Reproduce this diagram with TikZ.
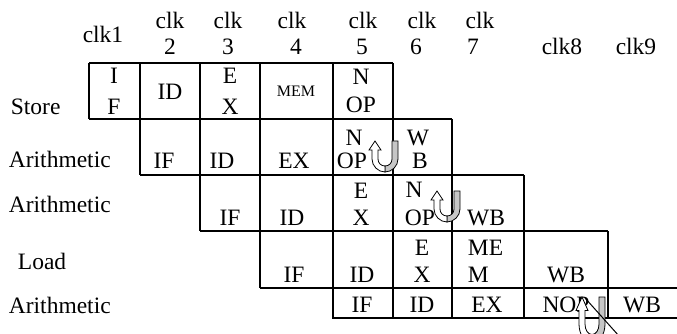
\documentclass[tikz,border=0pt]{standalone}
\usepackage{fontspec}
\setmainfont{Liberation Serif}
\begin{document}
\begin{tikzpicture}[x=1pt,y=-1pt,line width=1.8pt,
  txt/.style={font=\fontsize{23.5}{26}\selectfont,inner sep=0pt,text depth=0pt,anchor=base},
  lbl/.style={txt,anchor=base west},
  small/.style={font=\fontsize{16}{18}\selectfont,inner sep=0pt,anchor=base},
  backarm/.style={fill=gray!45,draw=black,line width=0.8pt},
  frontarm/.style={fill=white,draw=black,line width=0.8pt},
  uturn/.pic={
    \path[backarm] (10,25) .. controls (14,25) and (17,22) .. (17,18) -- (17,0)
      -- (23,0) -- (23,18) .. controls (23,25) and (17,31) .. (10,31) -- cycle;
    \path[frontarm] (0,0) -- (6,9) -- (3,9) -- (3,18)
      .. controls (3,22) and (6,25) .. (10,25) -- (10,31)
      .. controls (3,31) and (-3,25) .. (-3,18) -- (-3,9) -- (-6,9) -- cycle;
  }]
\useasboundingbox (0,0) rectangle (677,334);

% grid: horizontal rules
\draw (89,63) -- (393,63);
\draw (89,119) -- (452,119);
\draw (140,175) -- (524,175);
\draw (200,231) -- (608,231);
\draw (260,288) -- (677,288);
\draw (332,318) -- (677,318);
% grid: vertical rules
\draw (89,63) -- (89,119);
\draw (140,63) -- (140,175);
\draw (200,63) -- (200,231);
\draw (260,63) -- (260,288);
\draw (333,63) -- (333,318);
\draw (393,63) -- (393,318);
\draw (452,119) -- (452,318);
\draw (524,175) -- (524,318);
\draw (608,231) -- (608,318);

% clock headings
\node[txt] (c1) at (103,43) {clk1};
\node[txt] (c2a) at (170,29) {clk};  \node[txt] (c2b) at (170,55) {2};
\node[txt] (c3a) at (228,29) {clk};  \node[txt] (c3b) at (228,55) {3};
\node[txt] (c4a) at (292,29) {clk};  \node[txt] (c4b) at (296,55) {4};
\node[txt] (c5a) at (363,29) {clk};  \node[txt] (c5b) at (362,55) {5};
\node[txt] (c6a) at (422,29) {clk};  \node[txt] (c6b) at (416,55) {6};
\node[txt] (c7a) at (480,29) {clk};  \node[txt] (c7b) at (473,55) {7};
\node[txt] (c8) at (562,55) {clk8};
\node[txt] (c9) at (636,55) {clk9};

% instruction names
\node[lbl] (i1) at (10,115) {Store};
\node[lbl] (i2) at (8,167) {Arithmetic};
\node[lbl] (i3) at (8,212) {Arithmetic};
\node[lbl] (i4) at (17,269) {Load};
\node[lbl] (i5) at (8,313) {Arithmetic};

% Store
\node[txt] (s1a) at (114,84) {I};  \node[txt] (s1b) at (114,115) {F};
\node[txt] (s2) at (170,100) {ID};
\node[txt] (s3a) at (230,84) {E};  \node[txt] (s3b) at (230,115) {X};
\node[small] (s4) at (296,97) {MEM};
\node[txt] (s5a) at (361,85) {N};  \node[txt] (s5b) at (361,113) {OP};

% Arithmetic
\node[txt] (a1) at (164,168) {IF};
\node[txt] (a2) at (222,168) {ID};
\node[txt] (a3) at (294,168) {EX};
\node[txt] (a4a) at (354,146) {N};  \node[txt] (a4b) at (352,168) {OP};
\node[txt] (a5a) at (418,146) {W};  \node[txt] (a5b) at (420,168) {B};

% Arithmetic
\node[txt] (b1) at (230,225) {IF};
\node[txt] (b2) at (292,225) {ID};
\node[txt] (b3a) at (361,198) {E};  \node[txt] (b3b) at (361,225) {X};
\node[txt] (b4a) at (414,197) {N};  \node[txt] (b4b) at (420,225) {OP};
\node[txt] (b5) at (486,225) {WB};

% Load
\node[txt] (l1) at (294,282) {IF};
\node[txt] (l2) at (362,282) {ID};
\node[txt] (l3a) at (422,255) {E};  \node[txt] (l3b) at (422,282) {X};
\node[txt,anchor=base west] (l4a) at (467,255) {ME};
\node[txt,anchor=base west] (l4b) at (467,282) {M};
\node[txt] (l5) at (566,282) {WB};

% Arithmetic
\node[txt] (d1) at (362,312) {IF};
\node[txt] (d2) at (422,312) {ID};
\node[txt] (d3) at (487,312) {EX};
\node[txt] (d4) at (566,312) {NOP};
\node[txt] (d5) at (642,312) {WB};

% stall arrows
\pic at (375,141) {uturn};
\pic at (437,191) {uturn};
\begin{scope}
  \clip (0,0) rectangle (677,334);
  \pic[yscale=1.5] at (582,297) {uturn};
  \coordinate (x1) at (585,298);
  \coordinate (x2) at (619,336);
  \draw[line width=1pt] (x1) -- (x2);
\end{scope}
\end{tikzpicture}
\end{document}
